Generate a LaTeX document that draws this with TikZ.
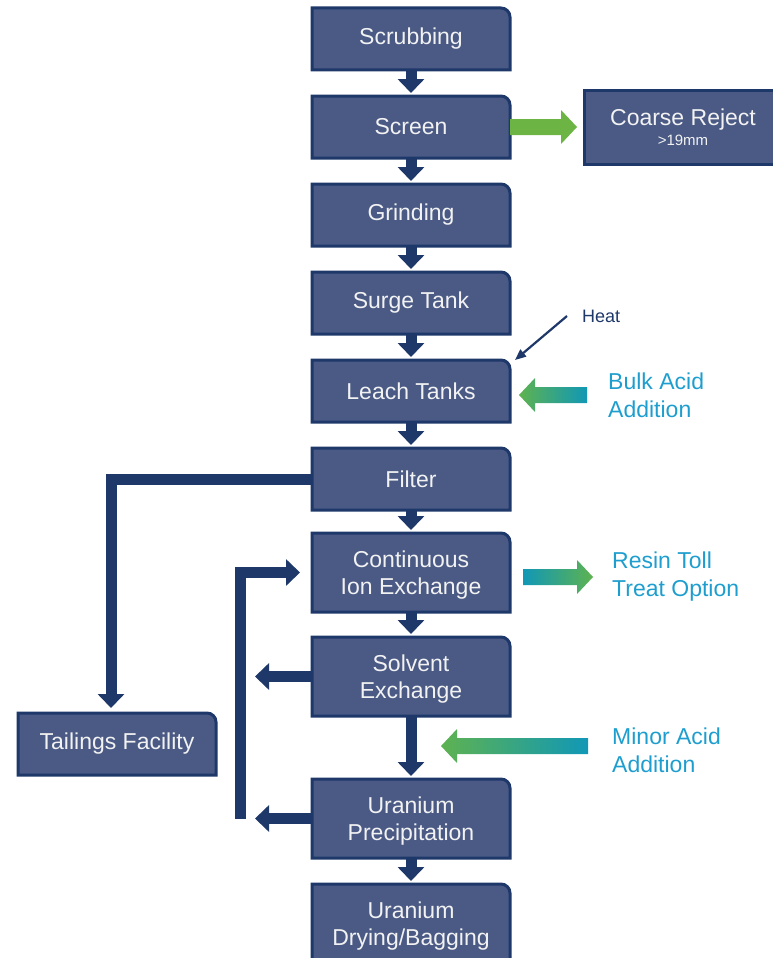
\documentclass[tikz,border=0pt]{standalone}
\usepackage{fontspec}
\setmainfont{Liberation Sans}
\usetikzlibrary{positioning,arrows.meta,calc,backgrounds}

\definecolor{boxfill}{RGB}{74,90,133}
\definecolor{navy}{RGB}{31,56,106}
\definecolor{boxtext}{RGB}{242,242,242}
\definecolor{labelblue}{RGB}{30,158,206}
\definecolor{screengreen}{RGB}{108,180,68}
\definecolor{acidgreen}{RGB}{94,178,80}
\definecolor{acidteal}{RGB}{17,152,182}

\tikzset{
  stagebox/.style={text=boxtext, font=\fontsize{23}{27}\selectfont, align=center,
    minimum width=198pt, minimum height=62pt, inner sep=0pt, outer sep=0pt},
  tallbox/.style={stagebox, minimum height=79pt, text depth=0pt},
  sidelabel/.style={text=labelblue, font=\fontsize{23}{28}\selectfont, align=left,
    anchor=west, inner sep=0pt},
  outline/.style={fill=boxfill, draw=navy, line width=3pt},
  flow/.style={draw=navy, line width=11pt, -{Triangle[width=26pt,length=14pt]}},
}

% fat horizontal arrow with a colour run: left colour, right colour, tail, tip
\newcommand\gradarrow[4]{%
  \path[left color=#1, right color=#2]
    let \p1=(#3), \p2=(#4), \n1={ifthenelse(\x2>\x1,16,-16)} in
    (\x1,\y1+8pt) -- (\x2-\n1,\y1+8pt) -- (\x2-\n1,\y1+17pt) -- (\x2,\y1)
    -- (\x2-\n1,\y1-17pt) -- (\x2-\n1,\y1-8pt) -- (\x1,\y1-8pt) -- cycle;}

\begin{document}
\begin{tikzpicture}[x=1pt,y=-1pt]
  \useasboundingbox (0,0) rectangle (773,958);

  % Set up the stages of the plant
  \node[stagebox] (scrub) at (411,39) {Scrubbing};
  \node[stagebox, below=26pt of scrub] (screen) {Screen};
  \node[stagebox, below=26pt of screen] (grind) {Grinding};
  \node[stagebox, below=26pt of grind] (surge) {Surge Tank};
  \node[stagebox, below=26pt of surge] (leach) {Leach Tanks};
  \node[stagebox, below=26pt of leach] (filter) {Filter};
  \node[tallbox, below=23pt of filter] (cix) {Continuous\\Ion Exchange};
  \node[tallbox, below=25pt of cix] (sx) {Solvent\\Exchange};
  \node[tallbox, below=63pt of sx] (precip) {Uranium\\Precipitation};
  \node[tallbox, below=26pt of precip] (dry) {Uranium\\Drying/Bagging};
  \node[stagebox, minimum height=74pt, right=74pt of screen] (coarse)
    {Coarse Reject\\[-7pt]{\fontsize{15}{18}\selectfont >19mm}};
  \node[stagebox] (tail) at (117,744) {Tailings Facility};

  % Side labels
  \node[text=navy, font=\fontsize{18}{20}\selectfont, anchor=west, inner sep=0pt]
    (heat) at (582,316) {Heat};
  \node[sidelabel] (bulk) at (608,395) {Bulk Acid\\Addition};
  \node[sidelabel] (resin) at (612,577) {Resin Toll\\Treat Option};
  \node[sidelabel] (minor) at (612,750) {Minor Acid\\Addition};

  % Box outlines, only the top right corner rounded
  \begin{scope}[on background layer]
    \foreach \n in {scrub,screen,grind,surge,leach,filter,cix,sx,precip,dry,tail}
      \draw[outline] (\n.south west) -- (\n.north west) -- ([xshift=-9pt]\n.north east)
        arc[start angle=90, end angle=0, radius=9pt] -- (\n.south east) -- cycle;
    \draw[outline] (coarse.south west) rectangle (coarse.north east);
  \end{scope}

  % Add the arrows
  \foreach \a/\b in {scrub/screen,screen/grind,grind/surge,surge/leach,leach/filter,
                     filter/cix,cix/sx,sx/precip,precip/dry}
    \draw[flow] (\a.south) -- ([yshift=3pt]\b.north);
  \draw[flow] (filter.west) -| ([xshift=-6pt,yshift=5pt]tail.north);
  \draw[flow] ([xshift=-72pt]precip.west) |- ([xshift=-12pt]cix.west);
  \draw[flow] (sx.west) -- ([xshift=-57pt]sx.west);
  \draw[flow] (precip.west) -- ([xshift=-57pt]precip.west);
  \draw[navy, line width=2.2pt, -{Triangle[width=9pt,length=11pt]}]
    ([xshift=-15pt]heat.west) -- ([xshift=5pt]leach.north east);

  \gradarrow{screengreen}{screengreen}{screen.east}{[xshift=-7pt]coarse.west}
  \gradarrow{acidgreen}{acidteal}{[xshift=-21pt]bulk.west}{[xshift=9pt]leach.east}
  \gradarrow{acidteal}{acidgreen}{[xshift=13pt]cix.east |- resin.west}{[xshift=-19pt]resin.west}
  \gradarrow{acidgreen}{acidteal}{[xshift=-24pt,yshift=4pt]minor.west}{[xshift=30pt]sx.south}
\end{tikzpicture}
\end{document}
